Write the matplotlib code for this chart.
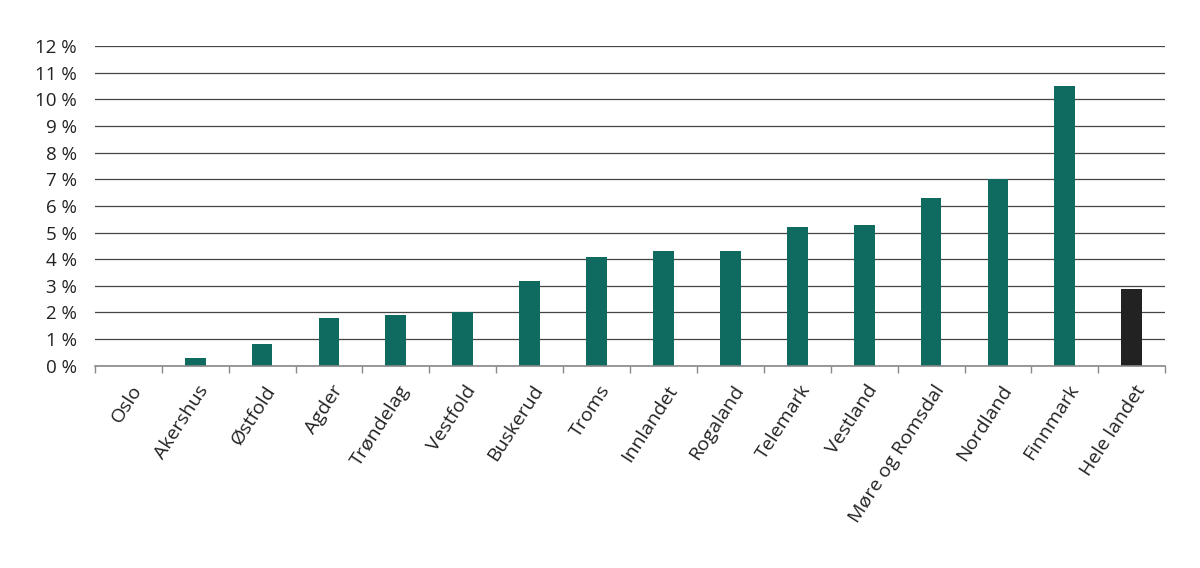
import matplotlib
matplotlib.use("Agg")
import matplotlib.pyplot as plt
import numpy as np

categories = ["Oslo", "Akershus", "Østfold", "Agder", "Trøndelag", "Vestfold", "Buskerud",
              "Troms", "Innlandet", "Rogaland", "Telemark", "Vestland", "Møre og Romsdal",
              "Nordland", "Finnmark", "Hele landet"]
values = [0.0, 0.3, 0.8, 1.8, 1.9, 2.0, 3.2, 4.1, 4.3, 4.3, 5.2, 5.3, 6.3, 7.0, 10.5, 2.9]
yticks = list(range(0, 13))

plt.rcParams['font.family'] = ['Open Sans', 'DejaVu Sans']

fig = plt.figure(figsize=(12, 5.68), dpi=100)
ax = fig.add_axes([0.079, 0.356, 0.892, 0.563])

x = np.arange(len(categories))
colors = ["#0f6a60"] * (len(categories) - 1) + ["#222222"]
ax.bar(x, values, width=0.31, color=colors, zorder=3)

ax.set_xlim(-0.5, len(categories) - 0.5)
ax.set_ylim(0, 12)
ax.set_yticks(yticks)
ax.set_yticklabels([f"{t} %" for t in yticks], fontsize=13.5, color="#222222")
ax.yaxis.grid(True, color="#444444", linewidth=0.9, zorder=0)
ax.tick_params(axis='y', length=0, pad=13)

ax.set_xticks(list(x - 0.5) + [len(categories) - 0.5])
ax.set_xticklabels([""] * (len(categories) + 1))
ax.tick_params(axis='x', direction='out', length=5, color="#888888", width=1)
for xi, lab in zip(x, categories):
    ax.annotate(lab, xy=(xi, 0), xycoords=('data', 'axes fraction'),
                xytext=(7, -15), textcoords='offset points',
                rotation=57, rotation_mode='anchor', ha='right', va='center',
                fontsize=14, color="#222222")

for s in ['top', 'right', 'left']:
    ax.spines[s].set_visible(False)
ax.spines['bottom'].set_color("#888888")
ax.spines['bottom'].set_linewidth(1.2)
ax.spines['bottom'].set_zorder(4)

fig.savefig("out.png", dpi=100)
